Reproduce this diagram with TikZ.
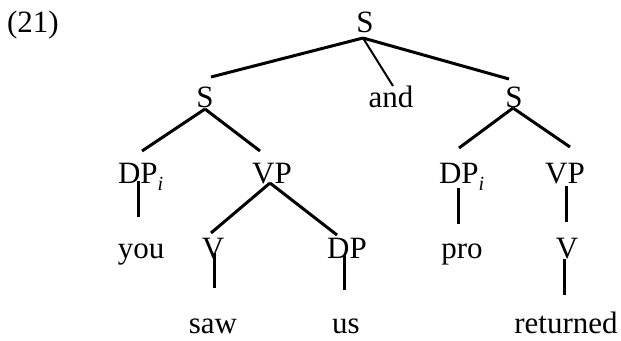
\documentclass[tikz,border=0pt]{standalone}
\usepackage{fontspec}
\setmainfont{Liberation Serif}
\newcommand\subi{\raisebox{-7pt}{\fontsize{20}{20}\selectfont\itshape i}}
\begin{document}
\begin{tikzpicture}[x=1pt,y=-1pt,
  lbl/.style={inner sep=0pt,outer sep=0pt,anchor=base,font=\fontsize{31}{31}\selectfont},
  branch/.style={line width=3pt},
  thinbranch/.style={line width=2pt}]
\useasboundingbox (0,0) rectangle (621,340);
% labels
\node[lbl,anchor=base west] (ex) at (7,32) {(21)};
\node[lbl] (S0) at (365,32) {S};
\node[lbl] (S1) at (205,107) {S};
\node[lbl] (and) at (391,107) {and};
\node[lbl] (S2) at (514,107) {S};
\node[lbl,anchor=base west] (DP1) at (118,183) {DP\subi};
\node[lbl] (VP1) at (272,183) {VP};
\node[lbl,anchor=base west] (DP2) at (439,183) {DP\subi};
\node[lbl] (VP2) at (565,183) {VP};
\node[lbl] (you) at (141,258) {you};
\node[lbl] (V1) at (213,258) {V};
\node[lbl] (DP3) at (347,258) {DP};
\node[lbl] (pro) at (462,258) {pro};
\node[lbl] (V2) at (567,258) {V};
\node[lbl] (saw) at (213,333) {saw};
\node[lbl] (us) at (346,333) {us};
\node[lbl] (ret) at (566,333) {returned};
% branches
\draw[branch] ([shift={(-2,6)}]S0.base) -- ([shift={(6,-30)}]S1.base);
\draw[thinbranch] ([shift={(-2,6)}]S0.base) -- ([shift={(2,-21)}]and.base);
\draw[branch] ([shift={(-2,6)}]S0.base) -- ([shift={(-5,-28)}]S2.base);
\draw[branch] ([shift={(0,2)}]S1.base) -- ([shift={(24,-32)}]DP1.base west);
\draw[branch] ([shift={(0,2)}]S1.base) -- ([shift={(-12,-32)}]VP1.base);
\draw[branch] ([shift={(-1,1)}]S2.base) -- ([shift={(20,-35)}]DP2.base west);
\draw[branch] ([shift={(-1,1)}]S2.base) -- ([shift={(5,-36)}]VP2.base);
\draw[branch] ([shift={(20,-2)}]DP1.base west) -- ([shift={(-3,-41)}]you.base);
\draw[branch] ([shift={(-2,0)}]VP1.base) -- ([shift={(-2,-25)}]V1.base);
\draw[branch] ([shift={(-2,0)}]VP1.base) -- ([shift={(-10,-23)}]DP3.base);
\draw[branch] ([shift={(19,5)}]DP2.base west) -- ([shift={(-4,-34)}]pro.base);
\draw[branch] ([shift={(1,3)}]VP2.base) -- ([shift={(-1,-36)}]V2.base);
\draw[branch] ([shift={(1,-5)}]V1.base) -- ([shift={(1,-45)}]saw.base);
\draw[branch] ([shift={(-3,-3)}]DP3.base) -- ([shift={(-2,-43)}]us.base);
\draw[branch] ([shift={(-3,1)}]V2.base) -- ([shift={(-2,-38)}]ret.base);
\end{tikzpicture}
\end{document}
